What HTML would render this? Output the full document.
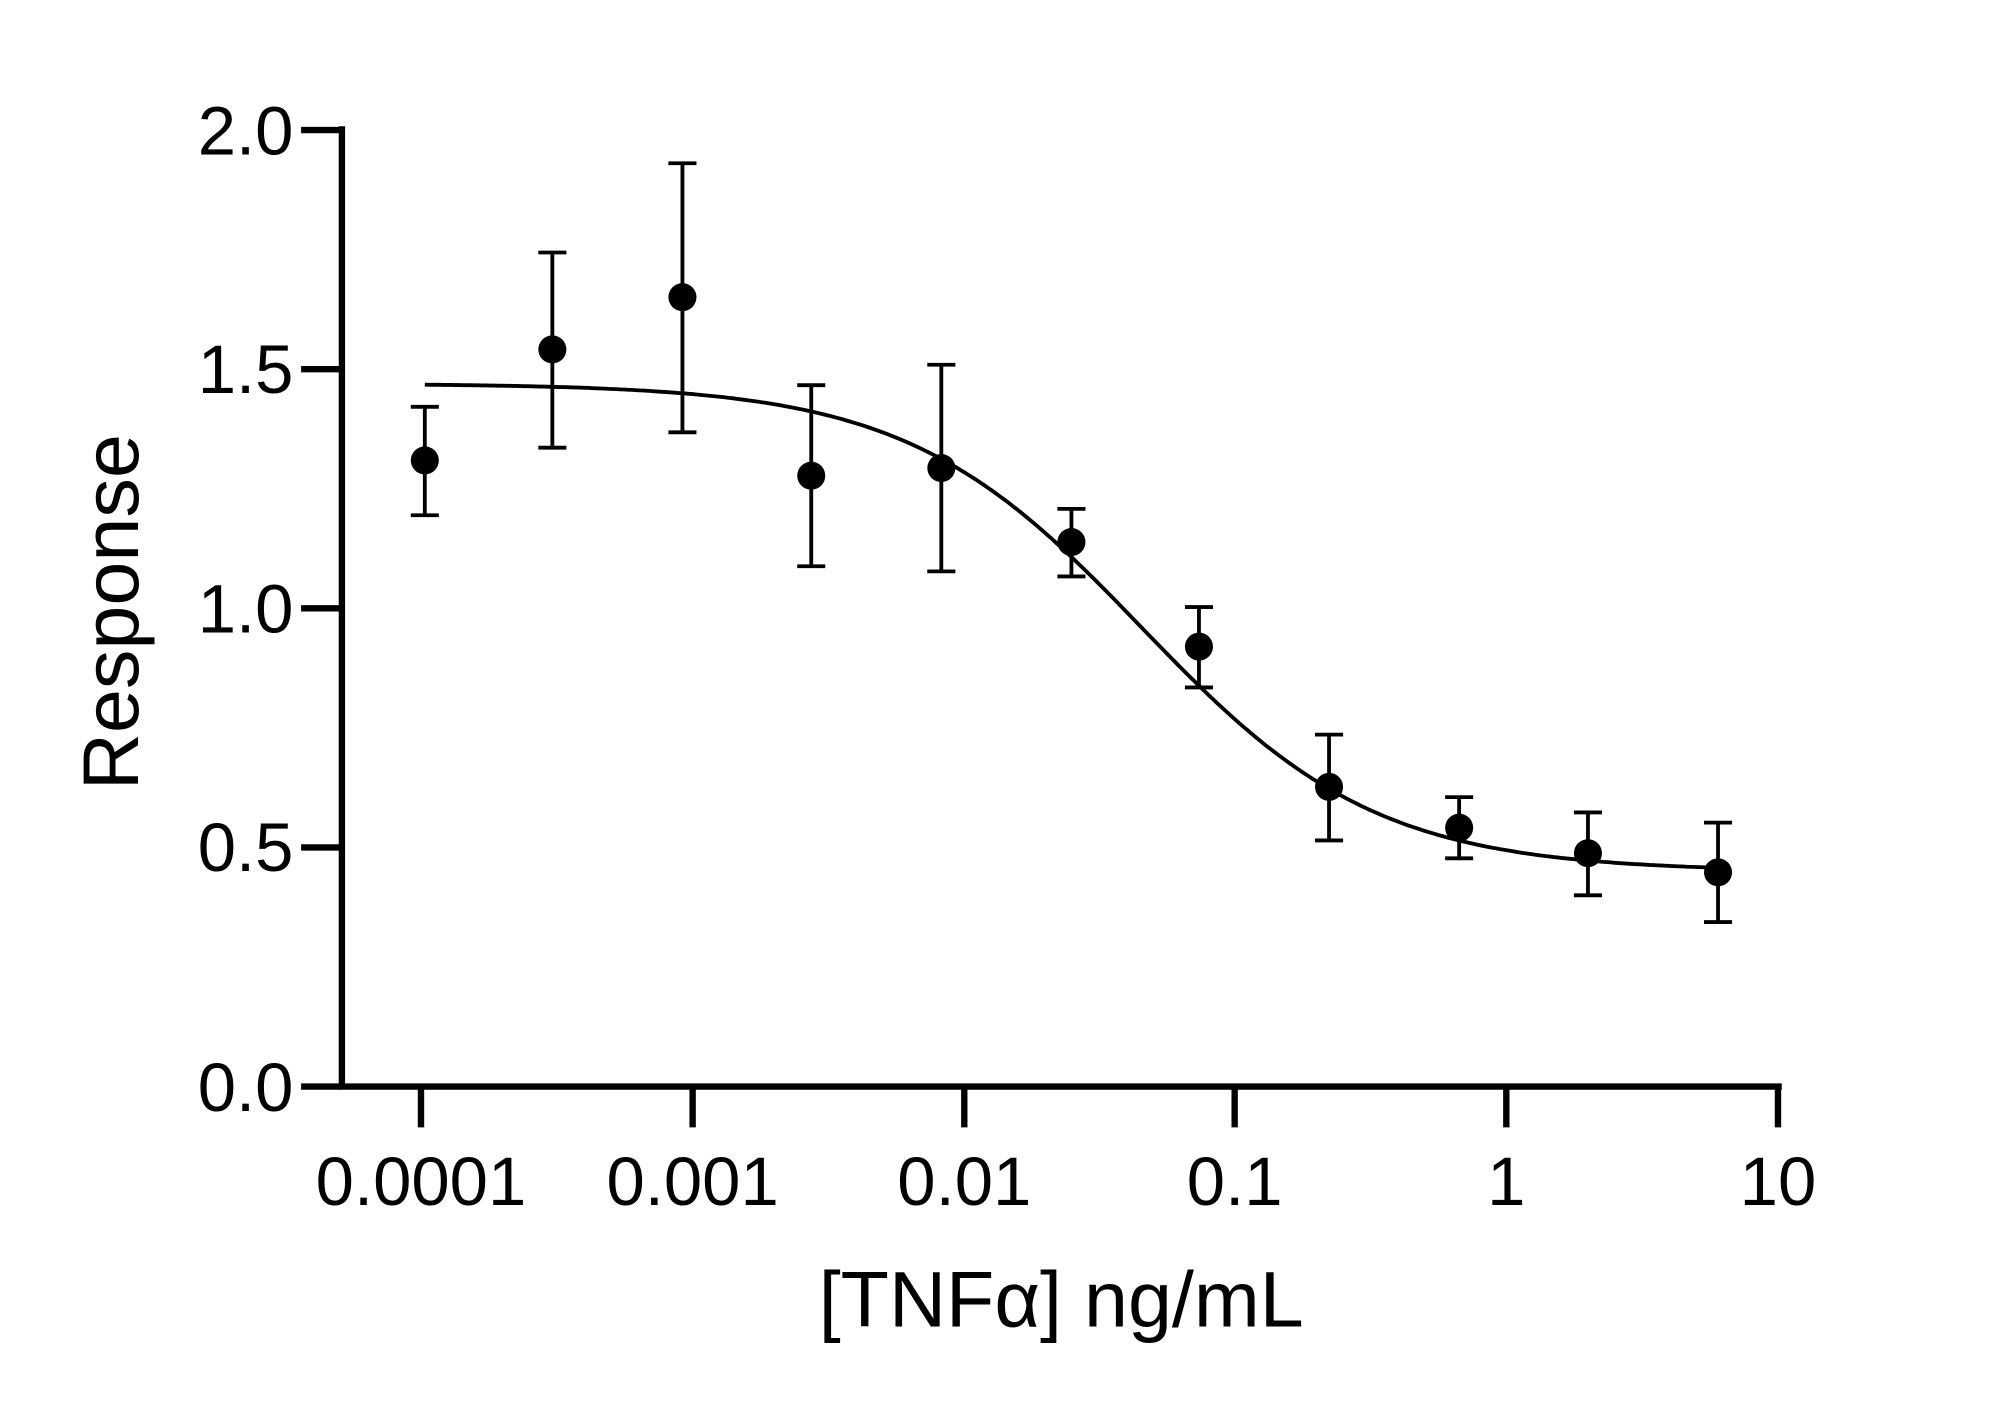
<!DOCTYPE html>
<html><head><meta charset="utf-8"><style>
html,body{margin:0;padding:0;background:#fff;}
svg{display:block;}
text{font-family:"Liberation Sans",Arial,sans-serif;fill:#000;}
</style></head><body>
<svg id="s" width="2000" height="1408" viewBox="0 0 1568 1104" xmlns="http://www.w3.org/2000/svg">
<g stroke="#000" stroke-width="5" fill="none">
<line x1="268" y1="99" x2="268" y2="854"/>
<line x1="266" y1="852" x2="1397" y2="852"/>
<line x1="236" y1="102" x2="268" y2="102"/>
<line x1="236" y1="289.5" x2="268" y2="289.5"/>
<line x1="236" y1="477" x2="268" y2="477"/>
<line x1="236" y1="664.5" x2="268" y2="664.5"/>
<line x1="236" y1="852" x2="268" y2="852"/>
<line x1="330" y1="852" x2="330" y2="884"/>
<line x1="543" y1="852" x2="543" y2="884"/>
<line x1="756" y1="852" x2="756" y2="884"/>
<line x1="968" y1="852" x2="968" y2="884"/>
<line x1="1181" y1="852" x2="1181" y2="884"/>
<line x1="1394" y1="852" x2="1394" y2="884"/>
</g>
<g font-size="54" text-anchor="end">
<text x="230" y="121">2.0</text>
<text x="230" y="308">1.5</text>
<text x="230" y="496">1.0</text>
<text x="230" y="683">0.5</text>
<text x="230" y="871">0.0</text>
</g>
<g font-size="54" text-anchor="middle">
<text x="330" y="945">0.0001</text>
<text x="543" y="945">0.001</text>
<text x="756" y="945">0.01</text>
<text x="968" y="945">0.1</text>
<text x="1181" y="945">1</text>
<text x="1394" y="945">10</text>
<text x="832" y="1040" font-size="62">[TNFα] ng/mL</text>
<text transform="translate(108,480) rotate(-90)" font-size="62">Response</text>
</g>
<path id="curve" fill="none" stroke="#000" stroke-width="3"/>
<g id="pts" stroke="#000" stroke-width="3" fill="#000"></g>
</svg>
<script>
var d=[[333,361,319,404],[433,274,198,351],[535,233,128,339],[636,373,302,444],[738,367,286,448],[840,425,399,452],[940,507,476,539],[1042,617,576,659],[1144,649,625,673],[1245,669,637,702],[1347,684,645,723]];
var g=document.getElementById('pts'),h='';
d.forEach(function(p){h+='<line x1="'+p[0]+'" y1="'+p[2]+'" x2="'+p[0]+'" y2="'+p[3]+'"/><line x1="'+(p[0]-11)+'" y1="'+p[2]+'" x2="'+(p[0]+11)+'" y2="'+p[2]+'"/><line x1="'+(p[0]-11)+'" y1="'+p[3]+'" x2="'+(p[0]+11)+'" y2="'+p[3]+'"/><circle cx="'+p[0]+'" cy="'+p[1]+'" r="11" stroke="none"/>';});
g.innerHTML=h;
var s='';
for(var x=333;x<=1347;x+=3){var f=0.45+1.02/(1+Math.pow(10,(x-895)/212.8));var y=852-f*375;s+=(x==333?'M':'L')+x+' '+y.toFixed(1);}
document.getElementById('curve').setAttribute('d',s);
</script>
</body></html>
